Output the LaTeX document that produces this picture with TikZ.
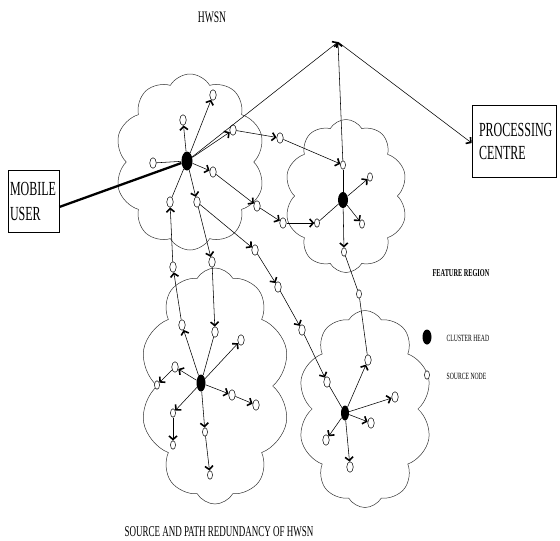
\documentclass[tikz,border=0pt]{standalone}
\usepackage{fontspec}
\setmainfont{Liberation Serif}[FakeStretch=0.6]
\usetikzlibrary{shapes.symbols,shapes.geometric,arrows.meta}
\begin{document}
\begin{tikzpicture}[x=1pt,y=-1pt,
  cloudr/.style 2 args={cloud, cloud puffs=10, cloud puff arc=120, cloud ignores aspect,
    draw=black!80, line width=0.5pt, inner sep=0pt, minimum width=#1, minimum height=#2},
  ch/.style 2 args={ellipse, fill=black, inner sep=0pt, minimum width=#1, minimum height=#2},
  src/.style={ellipse, draw, fill=white, line width=0.5pt, inner sep=0pt, minimum width=6.5pt, minimum height=10.5pt},
  srcs/.style={src, minimum width=5pt, minimum height=8.5pt},
  arr/.style={-{Straight Barb[length=3.5pt,width=8pt,line width=1.6pt]}},
  every path/.style={line width=0.55pt},
  box/.style={draw, line width=0.6pt, align=left, anchor=center}
]
\useasboundingbox (0,0) rectangle (560,541);

% clouds
\node[cloudr={150}{176}] (cl1) at (190,162) {};
\node[cloudr={123}{153}] (cl2) at (346,196) {};
\node[cloudr={150}{236}] (cl3) at (215,386) {};
\node[cloudr={134}{197}] (cl4) at (365,409) {};

% texts
\node[font=\fontsize{16}{18}\selectfont] (t1) at (212,17) {HWSN};
\node[font=\fontsize{15}{17}\selectfont] (t2) at (219,532) {SOURCE AND PATH REDUNDANCY OF HWSN};
\node[box, minimum width=51pt, minimum height=62pt, text width=47pt, inner xsep=2pt,
  font=\fontsize{20}{25}\selectfont] (mu) at (33.5,201) {MOBILE\\USER};
\node[box, minimum width=84pt, minimum height=72pt, text width=70pt, inner xsep=7pt,
  font=\fontsize{20}{23}\selectfont] (pc) at (514,141) {PROCESSING\\CENTRE};
\node[font=\bfseries\fontsize{10.5}{12}\selectfont] (fr) at (461,273) {FEATURE REGION};
\node[ch={9pt}{15pt}] (lch) at (427,337) {};
\node[anchor=west, font=\fontsize{9.5}{11}\selectfont] (lcht) at (443,338) {CLUSTER HEAD};
\node[srcs] (lsrc) at (427,375) {};
\node[anchor=west, font=\fontsize{9.5}{11}\selectfont] (lsrct) at (443,376) {SOURCE NODE};

% cluster heads
\node[ch={11pt}{19pt}] (CH1) at (187,161) {};
\node[ch={10pt}{16pt}] (CH2) at (343,200) {};
\node[ch={9pt}{17pt}] (CH3) at (201,383) {};
\node[ch={8pt}{15pt}] (CH4) at (345,413) {};

% source nodes
\node[src] (a1) at (153,163) {};
\node[src] (a2) at (183,120) {};
\node[src] (a3) at (213,95) {};
\node[src] (a4) at (233,130) {};
\node[src] (a5) at (213,172) {};
\node[src] (a6) at (170,202) {};
\node[src] (a7) at (197,202) {};
\node[src] (e1) at (280,138) {};
\node[src] (e2) at (257,206) {};
\node[src] (e3) at (283,223) {};
\node[srcs] (b1) at (343,165) {};
\node[srcs] (b2) at (370,177) {};
\node[srcs] (b3) at (362,224) {};
\node[srcs] (b4) at (344,252) {};
\node[srcs] (b5) at (317,223) {};
\node[srcs] (m1) at (359,294) {};
\node[src] (m2) at (173,267) {};
\node[src] (g1) at (212,262) {};
\node[src] (f1) at (255,250) {};
\node[src] (f2) at (278,287) {};
\node[src] (f3) at (302,330) {};
\node[src] (c1) at (182,325) {};
\node[src] (c2) at (215,332) {};
\node[src] (c3) at (241,340) {};
\node[src] (c4) at (175,367) {};
\node[srcs] (c5) at (157,385) {};
\node[src] (c6) at (232,395) {};
\node[src] (c7) at (256,405) {};
\node[srcs] (c8) at (173,413) {};
\node[srcs] (c9) at (173,445) {};
\node[srcs] (c10) at (205,432) {};
\node[srcs] (c11) at (210,475) {};
\node[src] (d1) at (327,382) {};
\node[src] (d2) at (368,360) {};
\node[src] (d3) at (395,397) {};
\node[src] (d4) at (371,423) {};
\node[src] (d5) at (326,440) {};
\node[src] (d6) at (350,467) {};

\coordinate (apex) at (338,42);

% connectors
\draw[line width=2.3pt] ([yshift=-6pt]mu.east) -- (CH1);
\draw[arr] (CH1) -- (apex);
\draw[arr] (b1) -- (apex);
\draw[arr] (apex) -- ([yshift=-2pt]pc.west);

\draw (CH1) -- (a1);
\draw[arr] (CH1) -- (a2);
\draw[arr] (CH1) -- (a3);
\draw[arr] (CH1) -- (a4);
\draw[arr] (a4) -- (e1);
\draw[arr] (e1) -- (b1);
\draw[arr] (CH1) -- (a5);
\draw[arr] (a5) -- (e2);
\draw[arr] (e2) -- (e3);
\draw[arr] (e3) -- (b5);
\draw (b5) -- (CH2);
\draw (CH2) -- (b1);
\draw[arr] (CH2) -- (b2);
\draw[arr] (CH2) -- (b3);
\draw[arr] (CH2) -- (b4);
\draw (b4) -- (m1);
\draw (m1) -- (d2);
\draw[arr] (CH4) -- (d2);
\draw (CH1) -- (a6);
\draw[arr] (m2) -- (a6);
\draw[arr] (c1) -- (m2);
\draw[arr] (CH3) -- (c1);
\draw[arr] (CH1) -- (a7);
\draw[arr] (a7) -- (g1);
\draw[arr] (g1) -- (c2);
\draw (c2) -- (CH3);
\draw[arr] (a7) -- (f1);
\draw[arr] (f1) -- (f2);
\draw[arr] (f2) -- (f3);
\draw[arr] (f3) -- (d1);
\draw (d1) -- (CH4);

\draw[arr] (CH3) -- (c3);
\draw[arr] (CH3) -- (c4);
\draw[arr] (c4) -- (c5);
\draw[arr] (CH3) -- (c6);
\draw[arr] (c6) -- (c7);
\draw[arr] (CH3) -- (c8);
\draw[arr] (c8) -- (c9);
\draw[arr] (CH3) -- (c10);
\draw[arr] (c10) -- (c11);

\draw[arr] (CH4) -- (d3);
\draw[arr] (CH4) -- (d4);
\draw[arr] (CH4) -- (d5);
\draw[arr] (CH4) -- (d6);
\end{tikzpicture}
\end{document}
